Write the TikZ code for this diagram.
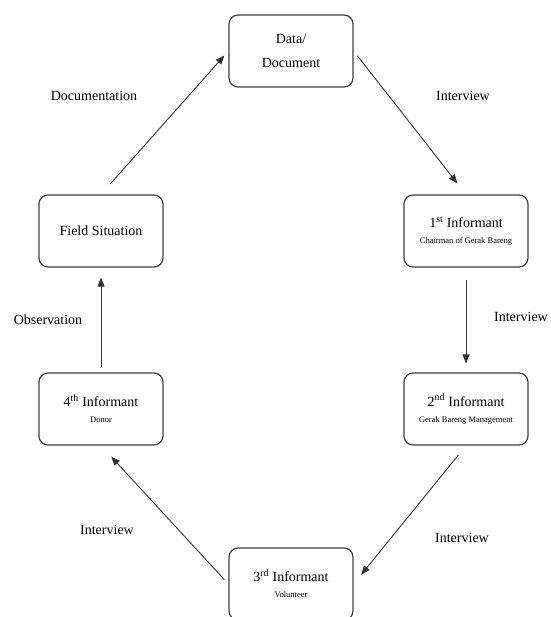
\documentclass[tikz,border=0pt]{standalone}
\usepackage{fontspec}
\setmainfont{Liberation Serif}
\usetikzlibrary{arrows.meta}

\tikzset{
  stage/.style={draw=black!75, line width=1.2pt, rounded corners=9pt,
    minimum width=124pt, minimum height=72pt, align=center, inner sep=2pt,
    font=\fontsize{14}{17}\selectfont, text=black},
  flow/.style={-{Triangle[length=9pt,width=7pt]}, line width=0.9pt, draw=black!80},
  lbl/.style={font=\fontsize{14}{17}\selectfont, text=black},
}
\newcommand{\role}[1]{{\fontsize{8.5}{10}\selectfont #1}}

\begin{document}
\begin{tikzpicture}[x=1pt,y=-1pt]
        \useasboundingbox (0,0) rectangle (550,617);

        % the six stages
        \node[stage] (data) at (291,51) {Data/\\[7pt]Document};
        \node[stage] (inf1) at (466,231) {1\textsuperscript{st} Informant\\[-1pt]\role{Chairman of Gerak Bareng}};
        \node[stage] (inf2) at (466,409) {2\textsuperscript{nd} Informant\\[-1pt]\role{Gerak Bareng Management}};
        \node[stage] (inf3) at (291,584) {3\textsuperscript{rd} Informant\\[-1pt]\role{Volunteer}};
        \node[stage] (inf4) at (101,409) {4\textsuperscript{th} Informant\\[-1pt]\role{Donor}};
        \node[stage] (field) at (101,231) {Field Situation};

        % arrows round the cycle
        \draw[flow, shorten <=6pt, shorten >=14pt] (data.east) -- (inf1.north);
        \draw[flow, shorten <=12pt, shorten >=9pt] (inf1.south) -- (inf2.north);
        \draw[flow, shorten <=12pt, shorten >=12pt] (inf2.south) -- (inf3.east);
        \draw[flow, shorten <=6pt, shorten >=15pt] (inf3.west) -- (inf4.south);
        \draw[flow, shorten <=5pt, shorten >=10pt] (inf4.north) -- (field.south);
        \draw[flow, shorten <=14pt, shorten >=6pt] (field.north) -- (data.west);

        % labels
        \node[lbl] (doc) at (94,96) {Documentation};
        \node[lbl] (iv1) at (463,96) {Interview};
        \node[lbl] (iv2) at (521,317) {Interview};
        \node[lbl] (obs) at (48,320) {Observation};
        \node[lbl] (iv3) at (462,538) {Interview};
        \node[lbl] (iv4) at (107,530) {Interview};
    \end{tikzpicture}
\end{document}
